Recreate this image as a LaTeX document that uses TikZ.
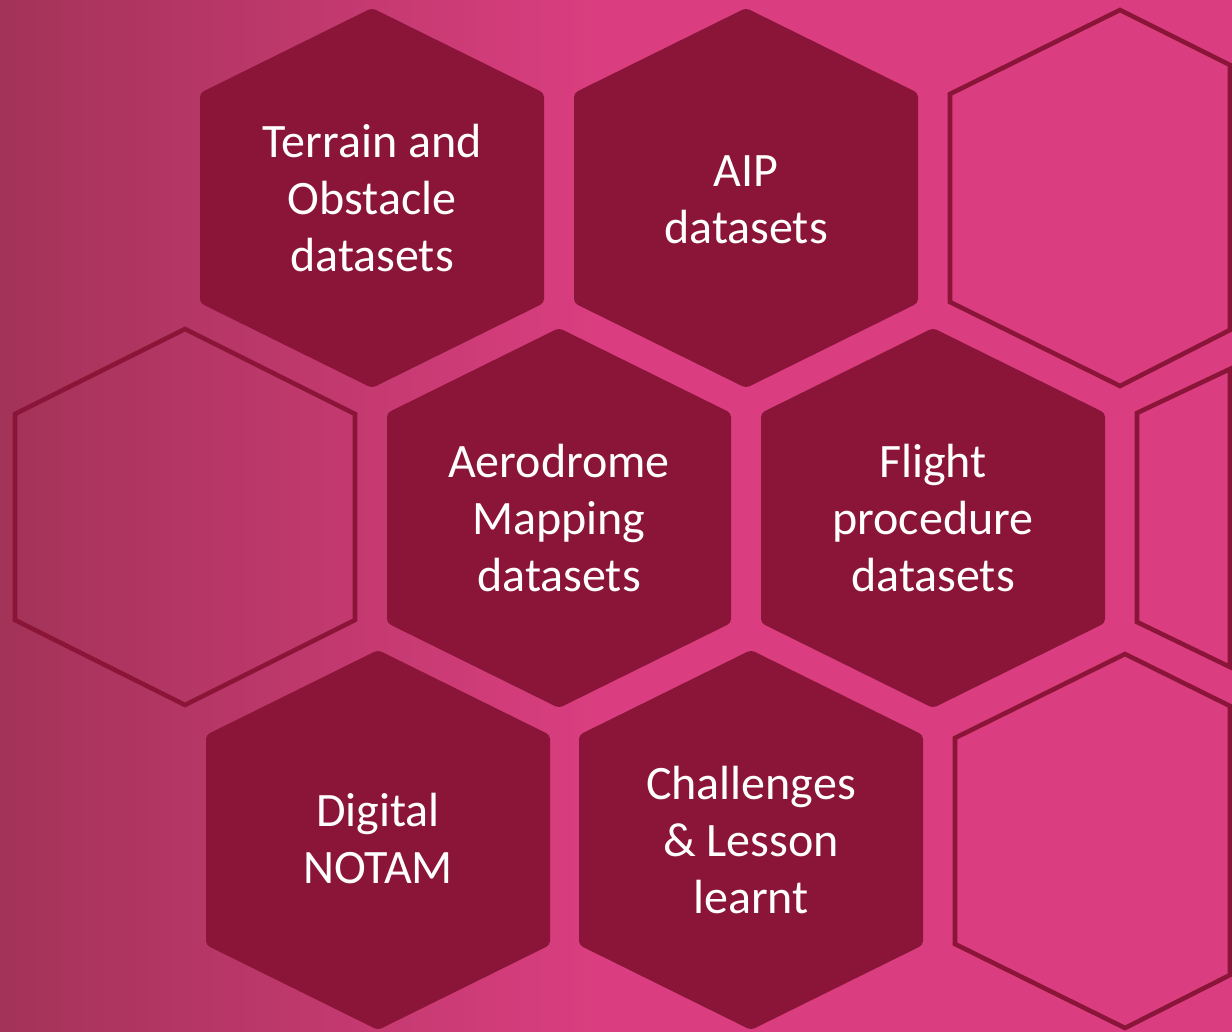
\documentclass[tikz,border=0pt]{standalone}
\usepackage{fontspec}
\setmainfont{Carlito}
\definecolor{HexDark}{RGB}{139,21,56}
\definecolor{HexPink}{RGB}{218,62,128}
\definecolor{HexMauve}{RGB}{163,51,88}
\tikzstyle{cell} = [fill=HexDark, rounded corners=2pt]
\tikzstyle{frame} = [draw=HexDark, line width=2.3pt, line join=miter]
\tikzstyle{hextext} = [text=white, align=center, inner sep=0pt, font=\fontsize{24}{28.5}\selectfont]
\newcommand{\hexcell}{(0,-190) -- (172,-105) -- (172,105) -- (0,190) -- (-172,105) -- (-172,-105) -- cycle}
\newcommand{\hexframe}{(0,-188) -- (170,-103) -- (170,103) -- (0,188) -- (-170,103) -- (-170,-103) -- cycle}

\begin{document}
\begin{tikzpicture}[x=0.5pt, y=-0.5pt]
	\useasboundingbox (0,0) rectangle (1232,1032);
	% background
	\fill[HexPink] (0,0) rectangle (1232,1032);
	\shade[left color=HexMauve, right color=HexPink] (0,0) rectangle (600,1032);

	% empty frames
	\draw[frame, shift={(185,517)}] \hexframe;
	\draw[frame] (1120,10) -- (1230,65) -- (1230,330) -- (1120,386) -- (950,302) -- (950,94) -- cycle;
	\draw[frame] (1137,413) -- (1230,369) -- (1230,667) -- (1137,622) -- cycle;
	\draw[frame] (1125,654) -- (1230,706) -- (1230,975) -- (1125,1028) -- (955,944) -- (955,738) -- cycle;

	% filled cells
	\fill[cell, shift={(372,198)}] \hexcell;
	\fill[cell, shift={(746,198)}] \hexcell;
	\fill[cell, shift={(559,518)}] \hexcell;
	\fill[cell, shift={(933,518)}] \hexcell;
	\fill[cell, shift={(378,840)}] \hexcell;
	\fill[cell, shift={(751,840)}] \hexcell;

	\node (terrain) [hextext] at (372,198) {Terrain and\\Obstacle\\datasets};
	\node (aip) [hextext] at (746,200) {AIP\\datasets};
	\node (aerodrome) [hextext] at (559,518) {Aerodrome\\Mapping\\datasets};
	\node (flight) [hextext] at (933,518) {Flight\\procedure\\datasets};
	\node (notam) [hextext] at (378,838) {Digital\\NOTAM};
	\node (lessons) [hextext] at (751,840) {Challenges\\\& Lesson\\learnt};
\end{tikzpicture}
\end{document}
